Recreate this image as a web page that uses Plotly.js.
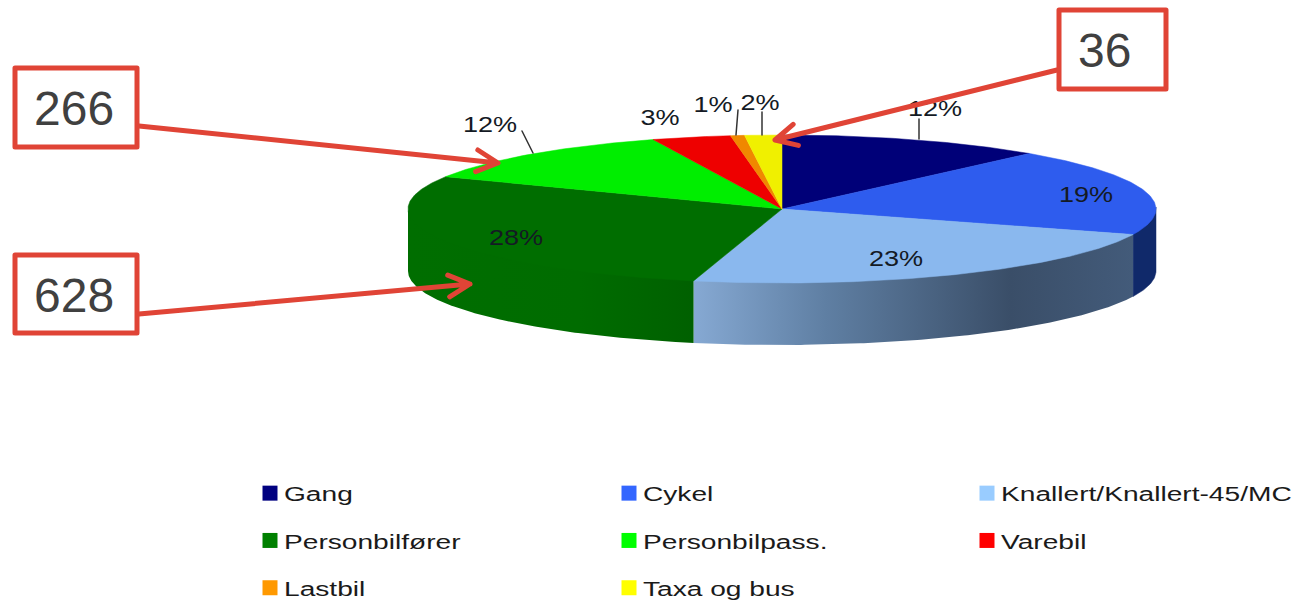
<!DOCTYPE html>
<html>
<head>
<meta charset="utf-8">
<script src="https://cdn.plot.ly/plotly-3.0.1.min.js"></script>
<style>
html,body{margin:0;padding:0;background:#fff;overflow:hidden}
#chart{width:1297px;height:601px}
.textpoint text{transform-box:fill-box;transform-origin:center;transform:scaleX(1.23)}
.legendtext,.legend2text,.legend3text{transform-box:fill-box;transform-origin:left center;transform:translateX(-6px) scaleX(1.34)}
.shapelayer path{stroke-linecap:round;stroke-linejoin:round}
</style>
</head>
<body>
<div id="chart"></div>
<script>
const categories = ["Gang","Cykel","Knallert/Knallert-45/MC","Personbilfører","Personbilpass.","Varebil","Lastbil","Taxa og bus"];
const shares = [11.5,19.1,23.2,28.4,12.2,3.4,0.6,1.6];
const topColors = ["#000078","#2E5CEE","#8AB8EE","#006E00","#00EE00","#EE0000","#F08800","#F0F000"];
const legendColors = ["#000080","#3366FF","#99CCFF","#008000","#00FF00","#FF0000","#FF9900","#FFFF00"];
const legendColumns = ["legend","legend2","legend3","legend","legend2","legend3","legend","legend2"];
const labelX = [935,1086,896,516,490,660,713,760];
const labelY = [111,197,261,240,127,120,107,105];
const callouts = [
  {text:"266", box:[13,66,139,149], from:[139,126], to:[498,163]},
  {text:"628", box:[13,253,139,335], from:[139,314], to:[470,284]},
  {text:"36",  box:[1057,8,1168,91], from:[1057,70], to:[775,140]}
];
const leaders = [[522,131,533,153],[738,110,736,135],[762,112,762,135],[919,119,919,139]];

const CX=782, CY=209, RX=374, RY=74, DEPTH=62;
const total = shares.reduce((a,b)=>a+b,0);
const pt = (a,dy=0)=>[CX+RX*Math.sin(a), CY-RY*Math.cos(a)+dy];
const rad = s=>s/total*2*Math.PI;

function arc(a0,a1,dy){
  const n=Math.max(4,Math.ceil(Math.abs(a1-a0)/0.01)), out=[];
  for(let i=0;i<=n;i++) out.push(pt(a0+(a1-a0)*i/n,dy));
  return out;
}
function trace(points,color,name,group,extra){
  return Object.assign({
    type:"scatter",mode:"lines",x:points.map(p=>p[0]),y:points.map(p=>p[1]),
    fill:"toself",fillcolor:color,line:{color:color,width:0.5},
    name:name,legendgroup:group,showlegend:false,hoverinfo:"skip"
  },extra||{});
}

const traces=[];
const wallStyles = {
  1:{color:"#10296A"},
  2:{color:"#4f6b8c",extra:{line:{width:0,color:"rgba(0,0,0,0)"},fillgradient:{type:"horizontal",colorscale:[[0,"#86A9D3"],[0.3,"#5F7FA3"],[0.72,"#3A4E68"],[1,"#435B7A"]]}}},
  3:{color:"#006E00",extra:{line:{width:0,color:"rgba(0,0,0,0)"},fillgradient:{type:"horizontal",colorscale:[[0,"#006E00"],[0.6,"#006C00"],[1,"#006000"]]}}}
};
let cum=0;
const tops=[];
categories.forEach((c,i)=>{
  const a0=rad(cum), a1=rad(cum+shares[i]); cum+=shares[i];
  const w0=Math.max(a0,Math.PI/2), w1=Math.min(a1,3*Math.PI/2);
  if(w1>w0){
    const st=wallStyles[i]||{color:topColors[i]};
    const pts=arc(w0,w1,-2).concat(arc(w1,w0,DEPTH));
    pts.push(pts[0]);
    traces.push(trace(pts,st.color,c,c,st.extra));
  }
  const pts=[[CX,CY]].concat(arc(a0,a1,0)); pts.push([CX,CY]);
  tops.push(trace(pts,topColors[i],c,c));
});
traces.push(...tops);

traces.push({
  type:"scatter",mode:"text",x:labelX,y:labelY,
  text:shares.map(s=>Math.round(s)+"%"),textposition:"middle center",
  textfont:{family:"Liberation Sans",size:22,color:"#141a24"},
  showlegend:false,hoverinfo:"skip"
});
categories.forEach((c,i)=>traces.push({
  type:"scatter",mode:"markers",x:[null],y:[null],name:c,legendgroup:c,legend:legendColumns[i],
  marker:{symbol:"square",size:15,color:legendColors[i]},hoverinfo:"skip"
}));

const shapes=[], annotations=[];
leaders.forEach(l=>shapes.push({type:"line",xref:"x",yref:"y",x0:l[0],y0:l[1],x1:l[2],y1:l[3],layer:"above",line:{color:"#333",width:1.5}}));
callouts.forEach(c=>{
  const [fx,fy]=c.from,[tx,ty]=c.to;
  const ang=Math.atan2(ty-fy,tx-fx),L=24,sp=0.47;
  const b1=[tx-L*Math.cos(ang-sp),ty-L*Math.sin(ang-sp)],b2=[tx-L*Math.cos(ang+sp),ty-L*Math.sin(ang+sp)];
  shapes.push({type:"path",xref:"x",yref:"y",layer:"above",line:{color:"#E04436",width:5},
    path:`M${fx} ${fy}L${tx} ${ty}M${b1[0]} ${b1[1]}L${tx} ${ty}L${b2[0]} ${b2[1]}`});
  shapes.push({type:"rect",xref:"x",yref:"y",layer:"above",x0:c.box[0]+2,y0:c.box[1]+2,x1:c.box[2]-2,y1:c.box[3]-2,
    line:{color:"#E04436",width:5},fillcolor:"#fff"});
  annotations.push({xref:"x",yref:"y",x:(c.box[0]+c.box[2])/2-(c.text==="36"?8:2),y:(c.box[1]+c.box[3])/2+1,text:c.text,showarrow:false,
    font:{family:"Liberation Sans",size:48,color:"#404040"}});
});

const legendColumn=(x)=>({orientation:"v",x:x/1297,xanchor:"left",y:1-473/601,yanchor:"top",
  tracegroupgap:17,traceorder:"grouped",bgcolor:"rgba(0,0,0,0)",
  font:{family:"Liberation Sans",size:21,color:"#1a1a1a"},itemclick:false,itemdoubleclick:false});

Plotly.newPlot("chart",traces,{
  width:1297,height:601,margin:{l:0,r:0,t:0,b:0,autoexpand:false},
  paper_bgcolor:"#fff",plot_bgcolor:"#fff",hovermode:false,
  xaxis:{range:[0,1297],visible:false,fixedrange:true},
  yaxis:{range:[601,0],visible:false,fixedrange:true},
  showlegend:true,
  legend:legendColumn(250),legend2:legendColumn(609),legend3:legendColumn(967),
  shapes,annotations
},{displayModeBar:false});
</script>
</body>
</html>
